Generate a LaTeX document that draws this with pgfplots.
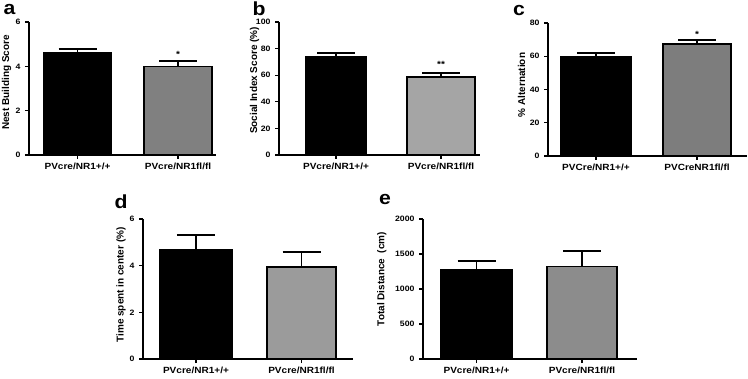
\documentclass[border=0pt]{standalone}
\usepackage{pgfplots}
\pgfplotsset{compat=1.18}
\usepackage{fontspec}
\setmainfont{Liberation Sans}
\newfontfamily\widefont[FakeStretch=1.12]{Liberation Sans}
\definecolor{ga}{RGB}{128,128,128}
\definecolor{gb}{RGB}{165,165,165}
\definecolor{gc}{RGB}{125,125,125}
\definecolor{gd}{RGB}{155,155,155}
\definecolor{ge}{RGB}{140,140,140}
\pgfplotsset{
  gp/.style={
    scale only axis, clip=false, anchor=south west,
    axis x line*=bottom, axis y line*=left,
    axis line style={line width=1.4bp, black},
    tick style={black, line width=1.1bp},
    tick align=outside, major tick length=4bp,
    xtick={0,1}, ymin=0,
    xticklabel style={font=\widefont\fontsize{9}{10}\selectfont\bfseries},
    yticklabel style={font=\widefont\fontsize{7.8}{9}\selectfont\bfseries, xshift=-1bp},
    ylabel style={font=\fontsize{10}{11}\selectfont\bfseries},
    /pgf/number format/assume math mode=true,
    /pgf/number format/1000 sep={},
    ybar,
    error bars/y dir=plus, error bars/y explicit,
    error bars/error bar style={line width=1.8bp, black},
    error bars/error mark options={rotate=90, mark size=19bp, line width=1.8bp, black},
  },
  ylab/.style 2 args={ylabel style={at={(axis description cs:#1,#2)}, anchor=center}},
  bk/.style={fill=black, draw=black, line width=1.5bp, bar shift=0pt},
}
\begin{document}
\begin{tikzpicture}
\useasboundingbox (0bp,0bp) rectangle (748bp,379bp);
\tikzset{plab/.style={inner sep=0pt, font=\widefont\fontsize{19}{19}\selectfont\bfseries}}
\node[plab] at (9.5bp,369bp) {a};
\node[plab] at (259bp,370bp) {b};
\node[plab] at (519bp,368bp) {c};
\node[plab] at (121bp,177bp) {d};
\node[plab] at (385bp,179bp) {e};

% panel a
\begin{axis}[gp, at={(29bp,224bp)}, width=187bp, height=133bp,
  xmin=-0.4826, xmax=1.378, ymax=6, ytick={0,2,4,6},
  xticklabels={PVcre/NR1+/+, PVcre/NR1fl/fl},
  ylabel={Nest Building Score}, ylab={-0.120}{0.545}]
\addplot[bk, bar width=67bp] coordinates {(0,4.62) +- (0,0.17)};
\addplot[bk, fill=ga, bar width=68bp] coordinates {(1,3.99) +- (0,0.24)};
\node[font=\widefont\fontsize{9}{9}\selectfont\bfseries] at (axis cs:1,4.55) {*};
\end{axis}

% panel b
\begin{axis}[gp, at={(279bp,224bp)}, width=201bp, height=133bp,
  xmin=-0.543, xmax=1.371, ymax=100, ytick={0,20,40,60,80,100},
  xticklabels={PVcre/NR1+/+, PVcre/NR1fl/fl},
  ylabel={Social Index Score (\%)}, ylab={-0.122}{0.56}]
\addplot[bk, bar width=60bp] coordinates {(0,73.7) +- (0,3.0)};
\addplot[bk, fill=gb, bar width=68bp] coordinates {(1,58.8) +- (0,3.0)};
\node[font=\widefont\fontsize{9}{9}\selectfont\bfseries] at (axis cs:1,68) {**};
\end{axis}

% panel c
\begin{axis}[gp, at={(548bp,223bp)}, width=199bp, height=133bp,
  xmin=-0.475, xmax=1.495, ymax=80, ytick={0,20,40,60,80},
  xticklabels={PVCre/NR1+/+, PVCreNR1fl/fl},
  ylabel={\% Alternation}, ylab={-0.133}{0.534}]
\addplot[bk, bar width=70bp] coordinates {(0,59.8) +- (0,2.2)};
\addplot[bk, fill=gc, bar width=68bp] coordinates {(1,67.3) +- (0,2.5)};
\node[font=\widefont\fontsize{9}{9}\selectfont\bfseries] at (axis cs:1,73) {*};
\end{axis}

% panel d
\begin{axis}[gp, at={(143bp,20bp)}, width=210bp, height=140bp,
  xmin=-0.502, xmax=1.488, ymax=6, ytick={0,2,4,6},
  xticklabels={PVcre/NR1+/+, PVcre/NR1fl/fl},
  ylabel={Time spent in center (\%)}, ylab={-0.105}{0.529}]
\addplot[bk, bar width=72bp] coordinates {(0,4.7) +- (0,0.6)};
\addplot[bk, fill=gd, bar width=69bp] coordinates {(1,3.94) +- (0,0.65)};
\end{axis}

% panel e
\begin{axis}[gp, at={(423bp,20bp)}, width=214bp, height=140bp,
  xmin=-0.507, xmax=1.521, ymax=2000, ytick={0,500,1000,1500,2000},
  scaled y ticks=false,
  xticklabels={PVcre/NR1+/+, PVcre/NR1fl/fl},
  ylabel={Total Distance\ \ (cm)}, ylab={-0.192}{0.571}]
\addplot[bk, bar width=71bp] coordinates {(0,1276) +- (0,120)};
\addplot[bk, fill=ge, bar width=70bp] coordinates {(1,1324) +- (0,219)};
\end{axis}
\end{tikzpicture}
\end{document}
